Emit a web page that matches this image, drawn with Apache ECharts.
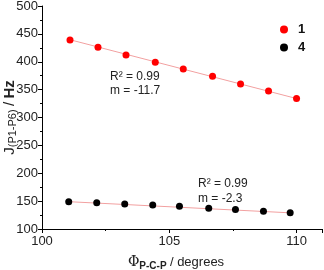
<!DOCTYPE html>
<html><head><meta charset="utf-8">
<script src="https://cdn.jsdelivr.net/npm/echarts@6/dist/echarts.min.js"></script>
<style>html,body{margin:0;padding:0;background:#fff}#c{width:324px;height:270px}</style>
</head><body><div id="c"></div>
<script>
const xTicks = [100, 105, 110];
const yTicks = [100, 150, 200, 250, 300, 350, 400, 450, 500];
const x1 = [101.1, 102.2, 103.3, 104.45, 105.55, 106.7, 107.8, 108.9, 110.0];
const y1 = [439, 426, 412, 399, 387, 374, 360, 347.5, 334];
const x4 = [101.05, 102.15, 103.25, 104.35, 105.4, 106.55, 107.6, 108.7, 109.75];
const y4 = [149, 147, 145, 143, 141, 137, 135, 132, 129];
const fit1X = [101.1, 110.0];
const fit1Y = [439.5, 334];
const fit4X = [101.05, 109.75];
const fit4Y = [149, 129];
const legendNames = ['1', '4'];
const notes = [['R² = 0.99', 'm = -11.7'], ['R² = 0.99', 'm = -2.3']];

const zip = (a, b) => a.map((v, i) => [v, b[i]]);
const font = 'Liberation Sans, Arial, sans-serif';
const chart = echarts.init(document.getElementById('c'));
chart.setOption({
  animation: false,
  textStyle: {fontFamily: font},
  grid: {left: 42, top: 6, right: 2, bottom: 41, containLabel: false, outerBoundsMode: 'none'},
  legend: {
    orient: 'vertical', left: 275, top: 18, itemWidth: 8, itemHeight: 8, itemGap: 5,
    data: [{name: legendNames[0], icon: 'circle'}, {name: legendNames[1], icon: 'circle'}],
    textStyle: {fontSize: 13, fontWeight: 'bold', color: '#111', padding: [0, 0, 0, 5]}
  },
  xAxis: {
    type: 'value', min: 100, max: 111, interval: 5,
    name: '{phi|Φ}{sub|P-C-P} {n|/ degrees}', nameLocation: 'middle', nameGap: 25,
    nameMoveOverlap: false,
    nameTextStyle: {padding: [0, 12, 0, 0], rich: {
      phi: {fontSize: 14, fontFamily: 'DejaVu Serif', color: '#222'},
      sub: {fontSize: 10, fontWeight: 'bold', color: '#222', padding: [7, 0, 0, 0]},
      n: {fontSize: 13, color: '#222'}
    }},
    axisLine: {lineStyle: {color: '#000', width: 1}},
    axisTick: {inside: false, length: 4, lineStyle: {color: '#000'}},
    minorTick: {show: true, splitNumber: 2, length: 2, lineStyle: {color: '#000'}},
    splitLine: {show: false},
    axisLabel: {fontSize: 13, color: '#222', margin: 6,
      formatter: v => xTicks.includes(v) ? String(v) : ''}
  },
  yAxis: {
    type: 'value', min: 100, max: 500, interval: 50,
    name: '{j|J}{sub|(P1-P6)} {n|/} {b|Hz}', nameLocation: 'middle', nameGap: 24, nameRotate: 90,
    nameMoveOverlap: false,
    nameTextStyle: {rich: {
      j: {fontSize: 15, color: '#222'},
      sub: {fontSize: 11, color: '#222', padding: [6, 0, 0, 0]},
      n: {fontSize: 15, color: '#222'},
      b: {fontSize: 15, fontWeight: 'bold', color: '#222'}
    }},
    axisLine: {show: true, lineStyle: {color: '#000', width: 1}},
    axisTick: {show: true, inside: false, length: 4, lineStyle: {color: '#000'}},
    minorTick: {show: true, splitNumber: 2, length: 2, lineStyle: {color: '#000'}},
    splitLine: {show: false},
    axisLabel: {fontSize: 13, color: '#222', margin: 4,
      formatter: v => yTicks.includes(v) ? String(v) : ''}
  },
  series: [
    {type: 'line', data: zip(fit1X, fit1Y), symbol: 'none', silent: true,
     lineStyle: {color: '#f2a0a0', width: 1}, z: 1},
    {type: 'line', data: zip(fit4X, fit4Y), symbol: 'none', silent: true,
     lineStyle: {color: '#f2a0a0', width: 1}, z: 1},
    {name: legendNames[0], type: 'scatter', data: zip(x1, y1), symbolSize: 7,
     itemStyle: {color: '#ff0000', opacity: 1}, z: 3},
    {name: legendNames[1], type: 'scatter', data: zip(x4, y4), symbolSize: 7,
     itemStyle: {color: '#000000', opacity: 1}, z: 3}
  ],
  graphic: [
    {type: 'text', left: 110, top: 70, style: {text: notes[0].join('\n'), lineHeight: 14, fill: '#222', font: '12px ' + font}},
    {type: 'text', left: 198, top: 176, style: {text: notes[1].join('\n'), lineHeight: 15, fill: '#222', font: '12px ' + font}}
  ]
});
</script>
</body></html>
